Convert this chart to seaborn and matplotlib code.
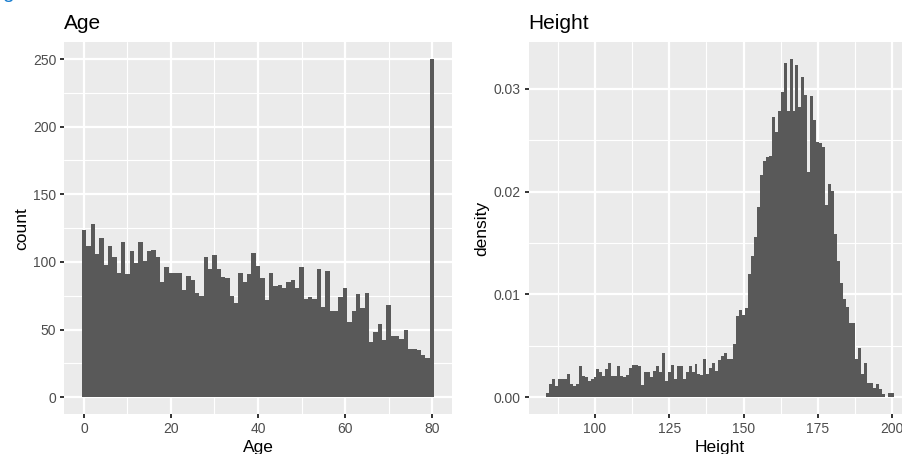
import numpy as np
import pandas as pd
import matplotlib
matplotlib.use("Agg")
import matplotlib.pyplot as plt
from matplotlib.ticker import FixedLocator, FormatStrFormatter
import seaborn as sns

# Age: one-year bins (0..80), number of people per bin
age_values = list(range(0, 81))
age_counts = [
    124, 112, 128, 106, 118, 98, 112, 104, 92, 115,
    91, 108, 99, 115, 101, 108, 109, 104, 85, 96,
    92, 92, 92, 79, 90, 87, 77, 75, 104, 95,
    105, 95, 89, 88, 75, 70, 92, 85, 91, 107,
    97, 88, 72, 92, 82, 83, 81, 85, 87, 81,
    96, 73, 74, 73, 95, 67, 93, 64, 64, 74,
    81, 56, 64, 76, 66, 77, 41, 48, 54, 42,
    68, 45, 45, 43, 50, 36, 36, 35, 31, 29,
    250,
]

# Height: 1 cm bins centred on whole centimetres (84..200), density per bin
height_values = list(range(84, 201))
height_density = [
    0.0004, 0.0013, 0.0018, 0.0011, 0.0018, 0.0018, 0.0018, 0.0023, 0.0013, 0.0011,
    0.0013, 0.0030, 0.0021, 0.0020, 0.0016, 0.0018, 0.0020, 0.0027, 0.0025, 0.0021,
    0.0027, 0.0033, 0.0021, 0.0021, 0.0030, 0.0021, 0.0020, 0.0022, 0.0028, 0.0031,
    0.0031, 0.0030, 0.0012, 0.0025, 0.0025, 0.0020, 0.0026, 0.0030, 0.0025, 0.0043,
    0.0016, 0.0025, 0.0031, 0.0018, 0.0030, 0.0030, 0.0018, 0.0025, 0.0030, 0.0025,
    0.0032, 0.0023, 0.0022, 0.0037, 0.0023, 0.0028, 0.0033, 0.0026, 0.0036, 0.0040,
    0.0043, 0.0037, 0.0037, 0.0052, 0.0079, 0.0085, 0.0080, 0.0087, 0.0120, 0.0137,
    0.0156, 0.0185, 0.0216, 0.0230, 0.0234, 0.0235, 0.0273, 0.0258, 0.0278, 0.0297,
    0.0325, 0.0278, 0.0329, 0.0278, 0.0323, 0.0282, 0.0312, 0.0294, 0.0219, 0.0293,
    0.0270, 0.0248, 0.0247, 0.0243, 0.0187, 0.0207, 0.0201, 0.0159, 0.0133, 0.0111,
    0.0096, 0.0088, 0.0072, 0.0072, 0.0037, 0.0048, 0.0023, 0.0033, 0.0014, 0.0014,
    0.0009, 0.0013, 0.0008, 0.0003, 0.0000, 0.0004, 0.0004,
]

age_ticks = [0, 20, 40, 60, 80]
age_count_ticks = [0, 50, 100, 150, 200, 250]
height_ticks = [100, 125, 150, 175, 200]
density_ticks = [0.00, 0.01, 0.02, 0.03]

age_df = pd.DataFrame({"Age": age_values, "n": age_counts})
height_df = pd.DataFrame({"Height": height_values, "d": height_density})

sns.set_style("darkgrid")
plt.rcParams["font.family"] = ["Liberation Sans", "DejaVu Sans"]

BAR = "#595959"
PANEL = "#EBEBEB"

W, H = 902, 454
fig = plt.figure(figsize=(W / 100, H / 100), dpi=100)
fig.patch.set_facecolor("white")


def px_axes(x0, x1, y_top, y_bot):
    return fig.add_axes([x0 / W, 1 - y_bot / H, (x1 - x0) / W, (y_bot - y_top) / H])


ax1 = px_axes(64.2, 451.8, 42.1, 414.2)
ax2 = px_axes(528.6, 910.9, 42.1, 414.2)

sns.histplot(data=age_df, x="Age", weights="n", bins=list(np.arange(-0.5, 81.5, 1.0)),
             element="step", fill=True, color=BAR, alpha=1, linewidth=0, ax=ax1)
sns.histplot(data=height_df, x="Height", weights="d", bins=list(np.arange(83.5, 201.5, 1.0)),
             element="step", fill=True, color=BAR, alpha=1, linewidth=0, ax=ax2)


def style(ax, xlim, ylim, xmaj, xmin, ymaj, ymin, xlabel, ylabel, title):
    ax.set_facecolor(PANEL)
    for s in ax.spines.values():
        s.set_visible(False)
    ax.set_xlim(*xlim)
    ax.set_ylim(*ylim)
    ax.xaxis.set_major_locator(FixedLocator(xmaj))
    ax.xaxis.set_minor_locator(FixedLocator(xmin))
    ax.yaxis.set_major_locator(FixedLocator(ymaj))
    ax.yaxis.set_minor_locator(FixedLocator(ymin))
    ax.grid(False)
    ax.grid(which="major", color="white", linewidth=1.6)
    ax.grid(which="minor", color="white", linewidth=0.8)
    ax.set_axisbelow(True)
    ax.tick_params(which="major", direction="out", length=3.1, width=1.4,
                   color="#333333", labelcolor="#4D4D4D", labelsize=10, pad=2.5,
                   bottom=True, left=True)
    ax.tick_params(which="minor", length=0)
    ax.set_xlabel(xlabel, fontsize=12.5, color="black", labelpad=3)
    ax.set_ylabel(ylabel, fontsize=12.5, color="black", labelpad=3)
    ax.set_title(title, loc="left", fontsize=15, color="black", pad=9.5)


style(ax1, (-4.55, 84.55), (-12.5, 262.5), age_ticks, [10, 30, 50, 70],
      age_count_ticks, [25, 75, 125, 175, 225], "Age", "count", "Age")
style(ax2, (77.65, 206.35), (-0.00165, 0.03455), height_ticks,
      [87.5, 112.5, 137.5, 162.5, 187.5], density_ticks, [0.005, 0.015, 0.025],
      "Height", "density", "Height")
ax2.yaxis.set_major_formatter(FormatStrFormatter("%.2f"))

# tail of the page heading that sits just above the figure
fig.text(2 / W, 1.0 + 2 / H, "g", color="#1B7FD0", fontsize=15, va="baseline", ha="left")

fig.savefig("out.png", dpi=100)
